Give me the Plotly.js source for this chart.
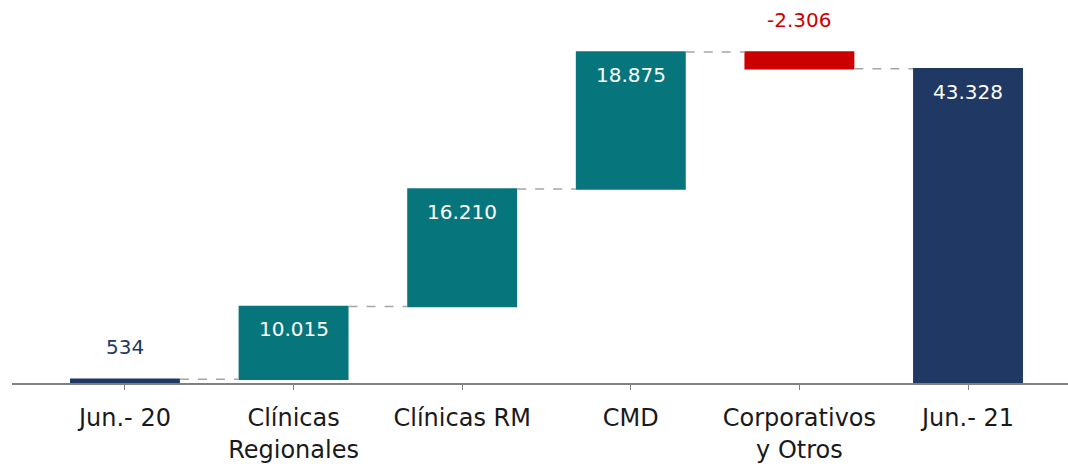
<!DOCTYPE html>
<html>
<head>
<meta charset="utf-8">
<script src="https://cdn.plot.ly/plotly-3.0.1.min.js"></script>
<style>html,body{margin:0;padding:0;background:#fff;}#chart{width:1068px;height:464px;}</style>
</head>
<body>
<div id="chart"></div>
<script>
var categories = ["Jun.- 20", "Clínicas<br>Regionales", "Clínicas RM", "CMD", "Corporativos<br>y Otros", "Jun.- 21"];
var values = [534, 10015, 16210, 18875, -2306, 43328];
var measures = ["absolute", "relative", "relative", "relative", "relative", "total"];

var colTotal = "#203864", colUp = "#07767C", colDown = "#CC0000";

function fmt(v) {
  var s = Math.abs(Math.round(v)).toString().replace(/\B(?=(\d{3})+(?!\d))/g, ".");
  return (v < 0 ? "-" : "") + s;
}

// cumulative levels for labels
var running = 0, tops = [], maxTop = 0;
for (var i = 0; i < values.length; i++) {
  var start, end;
  if (measures[i] === "absolute") { start = 0; end = values[i]; }
  else if (measures[i] === "total") { start = 0; end = running; }
  else { start = running; end = running + values[i]; }
  running = end;
  tops.push(Math.max(start, end));
  if (Math.max(start, end) > maxTop) maxTop = Math.max(start, end);
}

var annotations = [];
for (var j = 0; j < values.length; j++) {
  var v = measures[j] === "total" ? tops[j] : values[j];
  var outside = v < 0 || Math.abs(v) < 0.05 * maxTop;
  var color = outside ? (v < 0 ? colDown : colTotal) : "#ffffff";
  annotations.push({
    x: j, y: tops[j], xref: "x", yref: "y",
    text: fmt(v), showarrow: false,
    yanchor: outside ? "bottom" : "top",
    yshift: outside ? 18 : -9,
    font: {family: "DejaVu Sans, Verdana, sans-serif", size: 20, color: color}
  });
}

var trace = {
  type: "waterfall",
  x: categories,
  y: values,
  measure: measures,
  width: 0.652,
  textinfo: "none",
  hoverinfo: "skip",
  increasing: {marker: {color: colUp}},
  decreasing: {marker: {color: colDown}},
  totals: {marker: {color: colTotal}},
  connector: {mode: "between", line: {color: "#a6a6a6", width: 1.5, dash: "dash"}}
};

var layout = {
  width: 1068, height: 464,
  margin: {l: 12, r: 0, t: 0, b: 81},
  paper_bgcolor: "#ffffff", plot_bgcolor: "#ffffff",
  showlegend: false,
  font: {family: "DejaVu Sans, Verdana, sans-serif", color: "#1a1a1a"},
  xaxis: {
    type: "category",
    range: [-0.67, 5.593],
    showgrid: false, zeroline: false,
    showline: true, linecolor: "#808080", linewidth: 1.5,
    ticks: "outside", ticklen: 5, tickcolor: "#808080", tickwidth: 1,
    ticklabelstandoff: 8,
    tickfont: {family: "DejaVu Sans, Verdana, sans-serif", size: 24, color: "#1a1a1a"}
  },
  yaxis: {
    range: [0, 52806],
    visible: false, showgrid: false, zeroline: false
  },
  annotations: annotations
};

Plotly.newPlot("chart", [trace], layout, {displayModeBar: false, staticPlot: true});
</script>
</body>
</html>
